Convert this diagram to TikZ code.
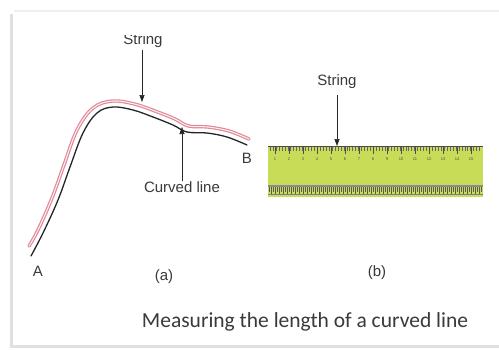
\documentclass[tikz,border=0pt]{standalone}
\usepackage{fontspec}
\setmainfont{Liberation Sans}
\newfontfamily\capfont{Carlito}
\usetikzlibrary{arrows.meta}
\definecolor{rulergreen}{HTML}{C8DC58}
\definecolor{stringpink}{HTML}{E08898}
\definecolor{txt}{HTML}{3A3A3A}
\tikzset{
  lbl/.style={font=\fontsize{15}{17}\selectfont, text=txt, inner sep=0pt},
  ptr/.style={draw=black!85, line width=0.7pt, -{Triangle[length=7pt,width=5pt]}},
  framebar/.style={draw=black!12, line width=3pt}
}
\begin{document}
\begin{tikzpicture}[x=1pt,y=-1pt]
\useasboundingbox (0,0) rectangle (499,349);
\fill[white] (0,0) rectangle (499,349);
% faint frame
\draw[framebar] (11,14) -- (11,346) -- (499,346);
\draw[draw=black!6, line width=2pt] (14,11) -- (499,11);
% string (pink) and curved line (black)
\def\stringpts{(29,246) (38,230) (52,198) (64,165) (77,130) (93,108) (112.5,101) (134.5,104) (155,111) (175,119) (188.5,126) (208,127) (229,131) (249,139)}
\draw[draw=stringpink, line width=3.4pt, line cap=round]
  plot[smooth, tension=0.6] coordinates {\stringpts};
\draw[draw=pink!30, line width=1.1pt, line cap=round]
  plot[smooth, tension=0.6] coordinates {\stringpts};
\draw[draw=black!85, line width=1.3pt, line cap=round]
  plot[smooth, tension=0.6] coordinates {(31,256) (43,233) (58,200) (70,167) (83,133) (97,113) (113,107) (133,110) (153,117) (173,125) (187,132) (207,133) (227,137) (247,145)};
% labels (a)
\begin{scope}
\clip (100,35) rectangle (190,60);
\node[lbl] (s1) at (143,41) {String};
\end{scope}
\coordinate (s1top) at (142,50);
\coordinate (s1tip) at (142,102);
\draw[ptr] (s1top) -- (s1tip);
\node[lbl] (cl) at (182,187) {Curved line};
\coordinate (cltip) at (182,127);
\draw[ptr] (cl.north) -- (cltip);
\node[lbl] (B) at (247,158) {B};
\node[lbl] (A) at (38,271) {A};
\node[lbl] (pa) at (164,277) {(a)};
% ruler
\fill[rulergreen] (268,146) rectangle (483,197);
\draw[black!70, line width=1.2pt] (268,146.5) -- (483,146.5);
\foreach \i in {0,...,71} {
  \draw[black!60, line width=0.4pt] ({270+\i*2.95},147) -- ({270+\i*2.95},151);
}
\foreach \n [count=\k from 0] in {1,...,15} {
  \draw[black!70, line width=0.6pt] ({275+\k*14},147) -- ({275+\k*14},154);
  \node[font=\fontsize{4}{4}\selectfont, text=black!70, inner sep=0pt] (rn\n) at ({275+\k*14},159) {\n};
}
\fill[black!45] (268,185) rectangle (483,187);
\foreach \i in {0,...,106} {
  \draw[black!65, line width=0.5pt] ({269+\i*2},187) -- ({269+\i*2},{192+mod(\i,2)*2});
}
\draw[black!50, line width=0.6pt] (268,194) -- (483,194);
\node[lbl] (s2) at (337,82) {String};
\coordinate (s2tip) at (337,146);
\draw[ptr] (s2.south) ++(0,6) -- (s2tip);
\node[lbl] (pb) at (377,273) {(b)};
% caption
\node[font=\capfont\fontsize{21.5}{24}\selectfont, text=txt, inner sep=0pt] (cap) at (305,322) {Measuring the length of a curved line};
\end{tikzpicture}
\end{document}
